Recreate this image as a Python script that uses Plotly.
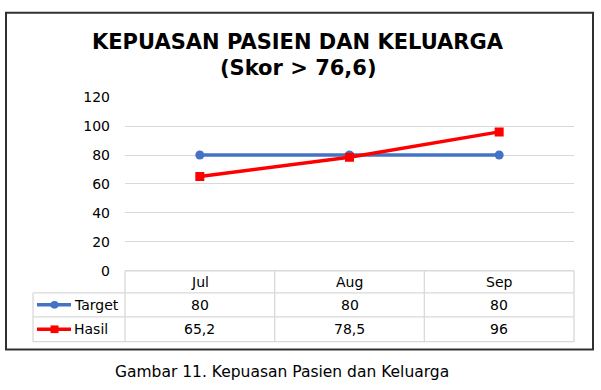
import plotly.graph_objects as go

months = ["Jul", "Aug", "Sep"]
target = [80, 80, 80]
hasil = [65.2, 78.5, 96]
target_labels = ["80", "80", "80"]
hasil_labels = ["65,2", "78,5", "96"]
y_ticks = [0, 20, 40, 60, 80, 100, 120]

W, H = 601, 390
def px(x):
    return x / W
def py(y):
    return 1 - y / H

BLUE = "#4472C4"
RED = "#FF0000"
GRID = "#D9D9D9"
FONT = "DejaVu Sans"

fig = go.Figure()
fig.add_trace(go.Scatter(x=months, y=target, mode="lines+markers", name="Target",
                         line=dict(color=BLUE, width=3.5),
                         marker=dict(symbol="circle", size=9, color=BLUE)))
fig.add_trace(go.Scatter(x=months, y=hasil, mode="lines+markers", name="Hasil",
                         line=dict(color=RED, width=3.5),
                         marker=dict(symbol="square", size=9, color=RED)))

shapes = []
# outer border
shapes.append(dict(type="rect", xref="paper", yref="paper", x0=px(6), x1=px(593), y0=py(356), y1=py(5),
                   line=dict(color="#303030", width=2)))
# table lines
tl, c1, tr = 33, 125, 574
r0, r1, r2, r3 = 274, 297, 322, 348
def hline(y, x0, x1):
    shapes.append(dict(type="line", xref="paper", yref="paper", x0=px(x0), x1=px(x1), y0=py(y), y1=py(y),
                       line=dict(color=GRID, width=1.3)))
def vline(x, y0, y1):
    shapes.append(dict(type="line", xref="paper", yref="paper", x0=px(x), x1=px(x), y0=py(y0), y1=py(y1),
                       line=dict(color=GRID, width=1.3)))
hline(r0, c1, tr)
for y in (r1, r2, r3):
    hline(y, tl, tr)
vline(tl, r1, r3)
for i in range(len(months) + 1):
    vline(c1 + i * (tr - c1) / len(months), r0, r3)
# legend keys
for (yy, col, sym) in (((r1 + r2) / 2, BLUE, "circle"), ((r2 + r3) / 2, RED, "square")):
    shapes.append(dict(type="line", xref="paper", yref="paper", x0=px(37), x1=px(71), y0=py(yy), y1=py(yy),
                       line=dict(color=col, width=3.5)))
    if sym == "circle":
        shapes.append(dict(type="circle", xref="paper", yref="paper", x0=px(50.5), x1=px(58.5),
                           y0=py(yy + 4), y1=py(yy - 4), fillcolor=col, line=dict(color=col, width=0)))
    else:
        shapes.append(dict(type="rect", xref="paper", yref="paper", x0=px(50.5), x1=px(58.5),
                           y0=py(yy + 4), y1=py(yy - 4), fillcolor=col, line=dict(color=col, width=0)))

annotations = []
annotations.append(dict(text="<b>KEPUASAN PASIEN DAN KELUARGA</b>", xref="paper", yref="paper",
                        x=px(298), y=py(35), showarrow=False, xanchor="center", yanchor="middle",
                        font=dict(family=FONT, size=21, color="#000000")))
annotations.append(dict(text="<b>(Skor &gt; 76,6)</b>", xref="paper", yref="paper",
                        x=px(298), y=py(63), showarrow=False, xanchor="center", yanchor="middle",
                        font=dict(family=FONT, size=21, color="#000000")))
annotations.append(dict(text="Gambar 11. Kepuasan Pasien dan Keluarga", xref="paper", yref="paper",
                        x=px(282), y=py(379.5), showarrow=False, xanchor="center", yanchor="middle",
                        font=dict(family=FONT, size=15.5, color="#000000")))
cell_font = dict(family=FONT, size=14, color="#000000")
for i, m in enumerate(months):
    annotations.append(dict(text=m, xref="x", yref="paper", x=m, y=py((r0 + r1) / 2), showarrow=False,
                            xanchor="center", yanchor="middle", font=cell_font))
    annotations.append(dict(text=target_labels[i], xref="x", yref="paper", x=m, y=py((r1 + r2) / 2),
                            showarrow=False, xanchor="center", yanchor="middle", font=cell_font))
    annotations.append(dict(text=hasil_labels[i], xref="x", yref="paper", x=m, y=py((r2 + r3) / 2),
                            showarrow=False, xanchor="center", yanchor="middle", font=cell_font))
annotations.append(dict(text="Target", xref="paper", yref="paper", x=px(72), y=py((r1 + r2) / 2),
                        showarrow=False, xanchor="left", yanchor="middle", font=cell_font))
annotations.append(dict(text="Hasil", xref="paper", yref="paper", x=px(72), y=py((r2 + r3) / 2),
                        showarrow=False, xanchor="left", yanchor="middle", font=cell_font))

fig.update_layout(
    width=W, height=H, margin=dict(l=0, r=0, t=0, b=0),
    paper_bgcolor="white", plot_bgcolor="white", showlegend=False, hovermode=False,
    shapes=shapes, annotations=annotations,
    xaxis=dict(domain=[px(c1), px(tr)], range=[-0.5, 2.5], showticklabels=False, showgrid=False,
               zeroline=False, showline=False, ticks=""),
    yaxis=dict(domain=[py(r0), py(93)], range=[0, 120], tickvals=y_ticks, showgrid=True,
               gridcolor=GRID, gridwidth=1.3, zeroline=False, showline=False,
               tickfont=dict(family=FONT, size=14, color="#000000"), ticklabelstandoff=14),
)
fig.write_html("out.html", config={"displayModeBar": False},
               post_script="document.body.style.margin='0';document.body.style.overflow='hidden';")
